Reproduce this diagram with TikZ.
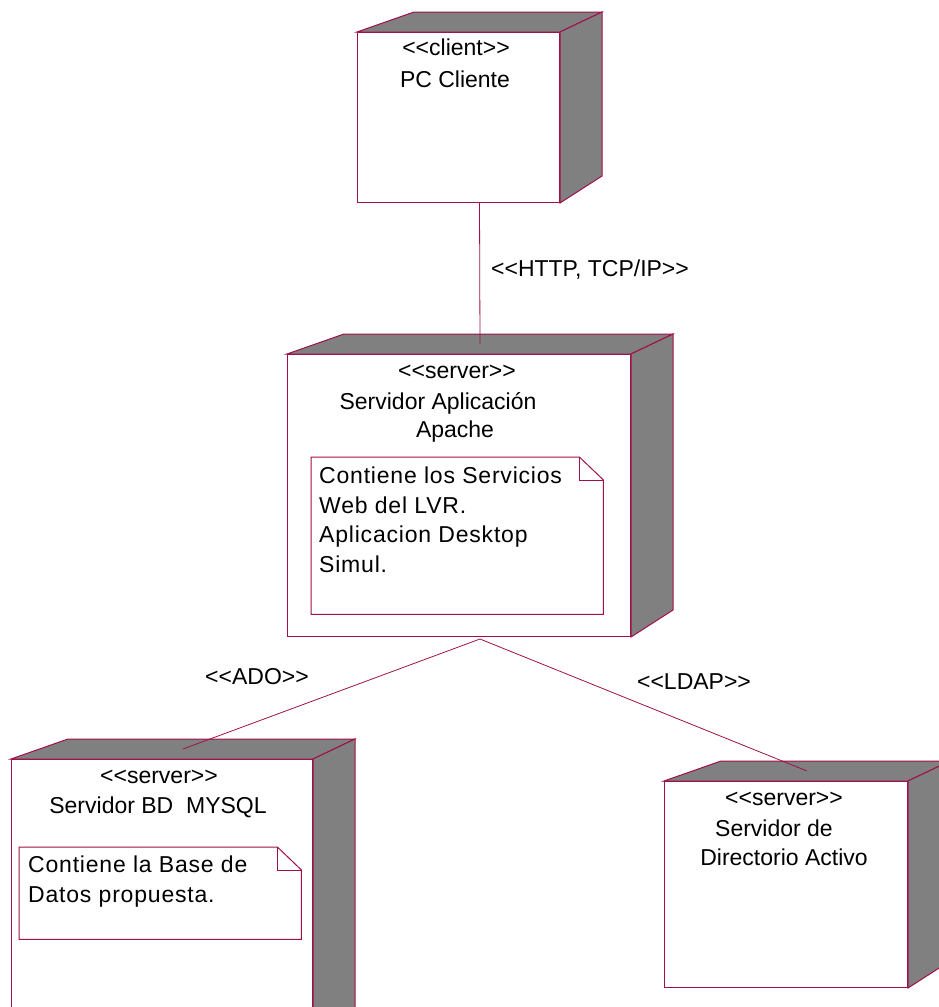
\documentclass[tikz,border=0pt]{standalone}
\usepackage{fontspec}
\setmainfont{Liberation Sans}
\usepackage{tikz}

\definecolor{rose}{RGB}{160,16,72}
\definecolor{shade}{RGB}{128,128,128}

\tikzset{
  face/.style={draw=rose, fill=white, line width=1pt, inner sep=0pt, anchor=north west},
  notebox/.style={inner sep=0pt, anchor=north west},
  lbl/.style={anchor=base, inner sep=0pt, font=\fontsize{23}{29}\selectfont},
  memo/.style={anchor=north west, inner sep=0pt, align=left,
               font=\fontsize{23}{29.5}\selectfont\addfontfeature{LetterSpace=3.5}},
  link/.style={draw=rose, line width=0.8pt},
}
% stereotype text, kern keeps << and >> apart
\newcommand{\stereo}[1]{<\kern0pt<#1>\kern0pt>}
% top and right faces of a device
\newcommand{\sides}[1]{
  \draw[rose, fill=shade, line width=1pt] (#1.north west) -- ++(57,-20)
       -- ([shift={(42,-20)}]#1.north east) -- (#1.north east) -- cycle;
  \draw[rose, fill=shade, line width=1pt] (#1.north east) -- ++(42,-20)
       -- ([shift={(42,-27)}]#1.south east) -- (#1.south east) -- cycle;
}
% note outline with folded corner
\newcommand{\memobox}[1]{
  \draw[rose, line width=1pt] (#1.north west) -- ([xshift=-24pt]#1.north east)
       -- ([yshift=-23pt]#1.north east) -- (#1.south east) -- (#1.south west) -- cycle;
  \draw[rose, line width=1pt] ([xshift=-24pt]#1.north east) |- ([yshift=-23pt]#1.north east);
}

\begin{document}
\begin{tikzpicture}[x=1pt,y=-1pt]
  \useasboundingbox (0,0) rectangle (939,1007);
  \clip (0,0) rectangle (939,1007);

  % devices
  \node (pc)  [face, minimum width=202pt, minimum height=170pt] at (357,32) {};
  \node (srv) [face, minimum width=343pt, minimum height=282pt] at (287,354) {};
  \node (db)  [face, minimum width=301pt, minimum height=280pt] at (11,759) {};
  \node (dir) [face, minimum width=243pt, minimum height=206pt] at (664,781) {};
  \foreach \n in {pc,srv,db,dir} {
    \sides{\n}
  }

  % notes
  \node (srvnote) [notebox, minimum width=292pt, minimum height=157pt] at (311,457) {};
  \memobox{srvnote}
  \node (dbnote) [notebox, minimum width=282pt, minimum height=92pt] at (19,847) {};
  \memobox{dbnote}

  % texts
  \node (pc1) [lbl] at (456,55) {\stereo{client}};
  \node (pc2) [lbl] at (455,87) {PC Cliente};
  \node (srv1) [lbl] at (457,378) {\stereo{server}};
  \node (srv2) [lbl] at (438,409) {Servidor Aplicación};
  \node (srv3) [lbl] at (455,437) {Apache};
  \node (db1) [lbl] at (159,783) {\stereo{server}};
  \node (db2) [lbl] at (158,813) {Servidor BD\ \ MYSQL};
  \node (dir1) [lbl] at (784,805) {\stereo{server}};
  \node (dir2) [lbl] at (774,836) {Servidor de};
  \node (dir3) [lbl] at (784,865) {Directorio Activo};
  \node (srvtxt) [memo] at (319,467) {Contiene los Servicios\\Web del LVR.\\Aplicacion Desktop\\Simul.};
  \node (dbtxt) [memo] at (28,856) {Contiene la Base de\\Datos propuesta.};

  % connectors
  \coordinate (pc-out) at ([xshift=21pt]pc.south);
  \coordinate (srv-in) at ([xshift=21pt,yshift=10pt]srv.north);
  \coordinate (srv-out) at ([xshift=21pt,yshift=-2pt]srv.south);
  \coordinate (db-in) at ([xshift=21pt,yshift=10pt]db.north);
  \coordinate (dir-in) at ([xshift=21pt,yshift=10pt]dir.north);
  \draw[link] (pc-out) -- (srv-in);
  \draw[link] (srv-out) -- (db-in);
  \draw[link] (srv-out) -- (dir-in);
  \node (http) [lbl] at (590,276) {\stereo{HTTP, TCP/IP}};
  \node (ado) [lbl] at (257,684) {\stereo{ADO}};
  \node (ldap) [lbl] at (694,689) {\stereo{LDAP}};
\end{tikzpicture}
\end{document}
